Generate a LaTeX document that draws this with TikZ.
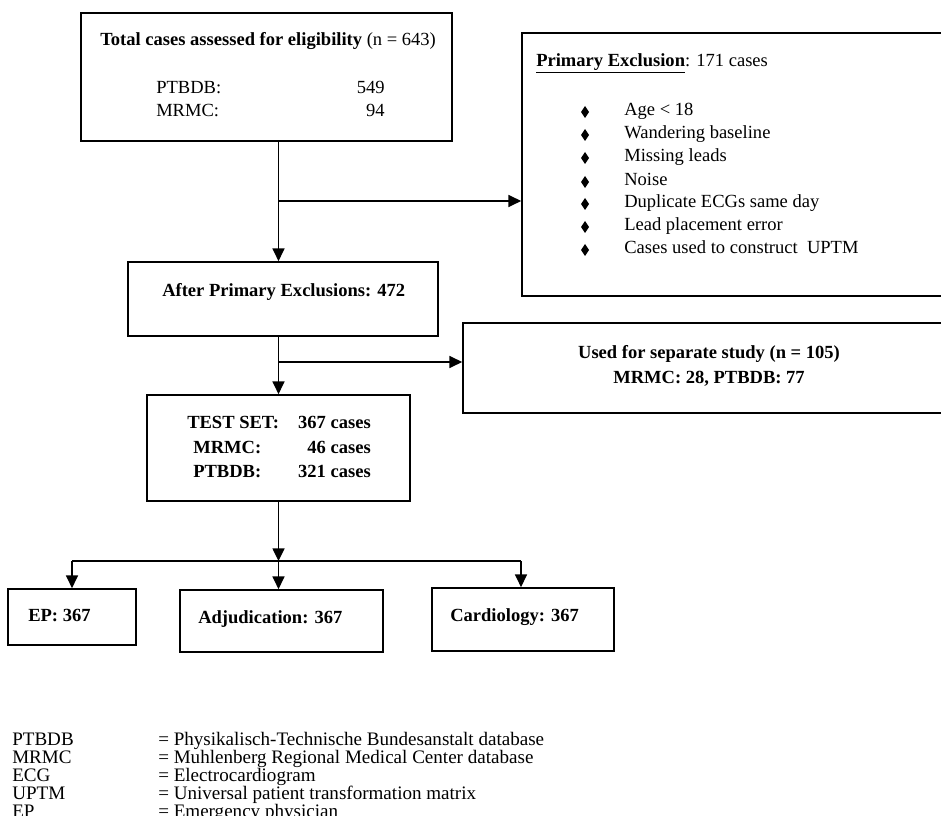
\documentclass[tikz,border=0pt]{standalone}
\usepackage{fontspec}
\setmainfont{Liberation Serif}
\usetikzlibrary{arrows.meta,fit}
\begin{document}
\begin{tikzpicture}[x=0.75pt,y=-0.75pt,
  font=\fontsize{13.9}{16}\selectfont,
  box/.style={draw, line width=1.3pt, inner sep=0pt},
  txt/.style={anchor=west, inner sep=0pt, text height=0.7em, text depth=0.2em},
  txe/.style={anchor=east, inner sep=0pt, text height=0.7em, text depth=0.2em},
  leg/.style={anchor=west, inner sep=0pt, text height=0.68em, text depth=0.2em, font=\fontsize{14.3}{17}\selectfont},
  ln/.style={line width=1.1pt},
  arr/.style={line width=1.1pt, -{Triangle[length=9.5pt,width=9pt]}},
  bul/.style={fill=black}]
\useasboundingbox (0,0) rectangle (941,816);
\fill[white] (0,0) rectangle (941,816);

% boxes
\node[box, fit={(81,13) (452,141)}] (b1) {};
\node[box, fit={(522,33) (960,296)}] (pe) {};
\node[box, fit={(128,262) (438,336)}] (b2) {};
\node[box, fit={(463,323) (960,413)}] (us) {};
\node[box, fit={(147,395) (410,501)}] (b3) {};
\node[box, fit={(8,589) (136,645)}] (ep) {};
\node[box, fit={(180,590) (383,652)}] (adj) {};
\node[box, fit={(432,588) (614,651)}] (card) {};

% box 1 text
\node[txt] (t1) at (100,42) {\textbf{Total cases assessed for eligibility} (n = 643)};
\node[txt] (t1a) at (156,90) {PTBDB:};
\node[txe] (t1b) at (385,90) {549};
\node[txt] (t1c) at (156,113) {MRMC:};
\node[txe] (t1d) at (385,113) {94};

% primary exclusion text
\node[txt] (pet) at (536,63) {\underline{\textbf{Primary Exclusion}}: 171 cases};
\foreach \yy/\tt [count=\i] in {112/{Age < 18},135/{Wandering baseline},158/{Missing leads},182/{Noise},204/{Duplicate ECGs same day},227/{Lead placement error},250/{Cases used to construct\ \ UPTM}}{
  \node[txt] (pe\i) at (624,\yy) {\tt};
  \fill[bul] (585,\yy-6) -- (589,\yy) -- (585,\yy+6) -- (581,\yy) -- cycle;
}

% box 2 text
\node[txt] (t2) at (162,293) {\textbf{After Primary Exclusions: 472}};

% used text
\node[align=center, inner sep=0pt, font=\fontsize{13.9}{19}\selectfont\bfseries] (ut) at (709,366) {Used for separate study (n = 105)\\MRMC: 28, PTBDB: 77};

% box 3 text
\node[txt] (t3a) at (187,425) {\textbf{TEST SET:}};
\node[txe] (t3b) at (371,425) {\textbf{367 cases}};
\node[txt] (t3c) at (193,450) {\textbf{MRMC:}};
\node[txe] (t3d) at (371,450) {\textbf{46 cases}};
\node[txt] (t3e) at (193,474) {\textbf{PTBDB:}};
\node[txe] (t3f) at (371,474) {\textbf{321 cases}};

% bottom boxes text
\node[txt] (tep) at (28,618) {\textbf{EP: 367}};
\node[txt] (tadj) at (198,620) {\textbf{Adjudication: 367}};
\node[txt] (tcard) at (450,618) {\textbf{Cardiology: 367}};

% connectors
\coordinate (sp) at (278.5,0);
\coordinate (j1) at (278.5,201);
\coordinate (j2) at (278.5,362);
\coordinate (j3) at (278.5,561);
\coordinate (jl) at (72,561);
\coordinate (jr) at (521,561);
\draw[arr] (b1.south -| sp) -- (b2.north -| sp);
\draw[arr] (j1) -- (pe.west |- j1);
\draw[arr] (b2.south -| sp) -- (b3.north -| sp);
\draw[arr] (j2) -- (us.west |- j2);
\draw[arr] (b3.south -| sp) -- (j3);
\draw[arr] (j3) -- (adj.north -| sp);
\draw[ln] (jl) -- (jr);
\draw[arr] (jl) -- (ep.north -| jl);
\draw[arr] (jr) -- (card.north -| jr);

% legend
\foreach \yy/\ab/\de [count=\i] in {742/PTBDB/{Physikalisch-Technische Bundesanstalt database},760/MRMC/{Muhlenberg Regional Medical Center database},778/ECG/Electrocardiogram,796/UPTM/{Universal patient transformation matrix},814/EP/{Emergency physician}}{
  \node[leg] (la\i) at (12,\yy) {\ab};
  \node[leg] (ld\i) at (158,\yy) {= \de};
}
\end{tikzpicture}
\end{document}
